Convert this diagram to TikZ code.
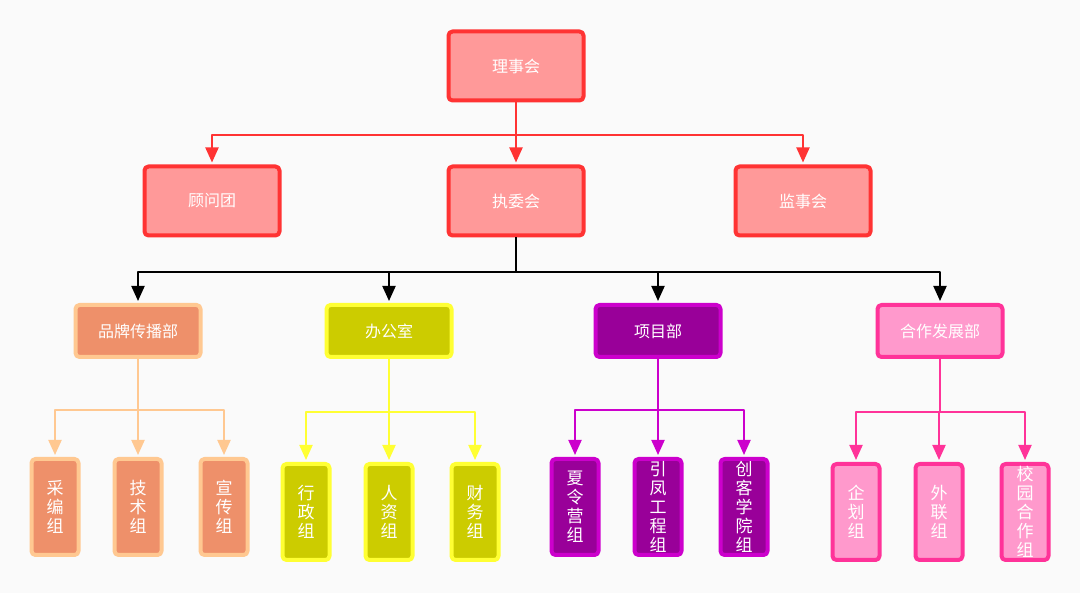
\documentclass[tikz,border=0pt]{standalone}
\usepackage{fontspec}
\newfontfamily\cjk{Noto Sans CJK SC}
\usetikzlibrary{arrows.meta}

\begin{document}
\begin{tikzpicture}[x=1pt, y=-1pt, line join=round,
    box/.style={draw, line width=4pt, rounded corners=4pt, inner sep=0pt,
        text=white, font=\cjk\fontsize{16}{19}\selectfont},
    bigbox/.style={box, minimum width=135pt, minimum height=69pt},
    midbox/.style={box, minimum width=125pt, minimum height=52pt},
    smallbox/.style={box, minimum width=47pt, minimum height=96pt, align=center,
        font=\cjk\fontsize{17}{19}\selectfont},
    link/.style={line width=2pt, shorten >=2pt, -{Triangle[width=13pt,length=15pt]}}]

    % Define custom colors to match the image
    \definecolor{bggray}{RGB}{250, 250, 250}
    \definecolor{redline}{RGB}{255, 51, 51}
    \definecolor{redfill}{RGB}{255, 153, 153}
    \definecolor{orangeline}{RGB}{255, 200, 145}
    \definecolor{orangefill}{RGB}{238, 144, 106}
    \definecolor{yellowline}{RGB}{255, 255, 51}
    \definecolor{yellowfill}{RGB}{204, 204, 0}
    \definecolor{purpleline}{RGB}{204, 0, 204}
    \definecolor{purplefill}{RGB}{153, 0, 153}
    \definecolor{pinkline}{RGB}{255, 51, 153}
    \definecolor{pinkfill}{RGB}{255, 153, 204}

    % Background
    \fill[bggray] (0,0) rectangle (1080,593);

    % =======================================================
    % TOP LEVELS
    % =======================================================
    \node[bigbox, draw=redline, fill=redfill] (lsh) at (516,66) {理事会};

    \node[bigbox, draw=redline, fill=redfill] (gwt) at (212,201) {顾问团};
    \node[bigbox, draw=redline, fill=redfill] (zwh) at (516,201) {执委会};
    \node[bigbox, draw=redline, fill=redfill] (jsh) at (803,201) {监事会};

    \foreach \n in {gwt,zwh,jsh} {
        \draw[link, redline] (lsh.south) -- ++(0,33) -| (\n.north);
    }

    % =======================================================
    % DEPARTMENTS
    % =======================================================
    \node[midbox, draw=orangeline, fill=orangefill] (ppb) at (138,331) {品牌传播部};
    \node[midbox, draw=yellowline, fill=yellowfill] (bgs) at (389,331) {办公室};
    \node[midbox, draw=purpleline, fill=purplefill] (xmb) at (658,331) {项目部};
    \node[midbox, draw=pinkline, fill=pinkfill] (hzb) at (940,331) {合作发展部};

    \foreach \n in {ppb,bgs,xmb,hzb} {
        \draw[link, black] (zwh.south) -- ++(0,34.5) -| (\n.north);
    }

    % =======================================================
    % GROUPS
    % =======================================================
    % 1. Brand groups (orange)
    \node[smallbox, draw=orangeline, fill=orangefill] (cbz) at (55,507) {采\\编\\组};
    \node[smallbox, draw=orangeline, fill=orangefill] (jsz) at (138,507) {技\\术\\组};
    \node[smallbox, draw=orangeline, fill=orangefill] (xcz) at (224,507) {宣\\传\\组};
    \foreach \n in {cbz,jsz,xcz} {
        \draw[link, orangeline] (ppb.south) -- ++(0,51) -| (\n.north);
    }

    % 2. Office groups (yellow)
    \node[smallbox, draw=yellowline, fill=yellowfill] (xzz) at (306,512) {行\\政\\组};
    \node[smallbox, draw=yellowline, fill=yellowfill] (rzz) at (389,512) {人\\资\\组};
    \node[smallbox, draw=yellowline, fill=yellowfill] (cwz) at (475,512) {财\\务\\组};
    \foreach \n in {xzz,rzz,cwz} {
        \draw[link, yellowline] (bgs.south) -- ++(0,53) -| (\n.north);
    }

    % 3. Project groups (purple)
    \node[smallbox, draw=purpleline, fill=purplefill] (xlyz) at (575,507) {夏\\令\\营\\组};
    \node[smallbox, draw=purpleline, fill=purplefill] (yfgc) at (658,507) {引\\凤\\工\\程\\组};
    \node[smallbox, draw=purpleline, fill=purplefill] (ckxy) at (744,507) {创\\客\\学\\院\\组};
    \foreach \n in {xlyz,yfgc,ckxy} {
        \draw[link, purpleline] (xmb.south) -- ++(0,51) -| (\n.north);
    }

    % 4. Cooperation groups (pink)
    \node[smallbox, draw=pinkline, fill=pinkfill] (qhz) at (856,512) {企\\划\\组};
    \node[smallbox, draw=pinkline, fill=pinkfill] (wlz) at (939,512) {外\\联\\组};
    \node[smallbox, draw=pinkline, fill=pinkfill] (xyhz) at (1025,512) {校\\园\\合\\作\\组};
    \foreach \n in {qhz,wlz,xyhz} {
        \draw[link, pinkline] (hzb.south) -- ++(0,53) -| (\n.north);
    }

\end{tikzpicture}
\end{document}
